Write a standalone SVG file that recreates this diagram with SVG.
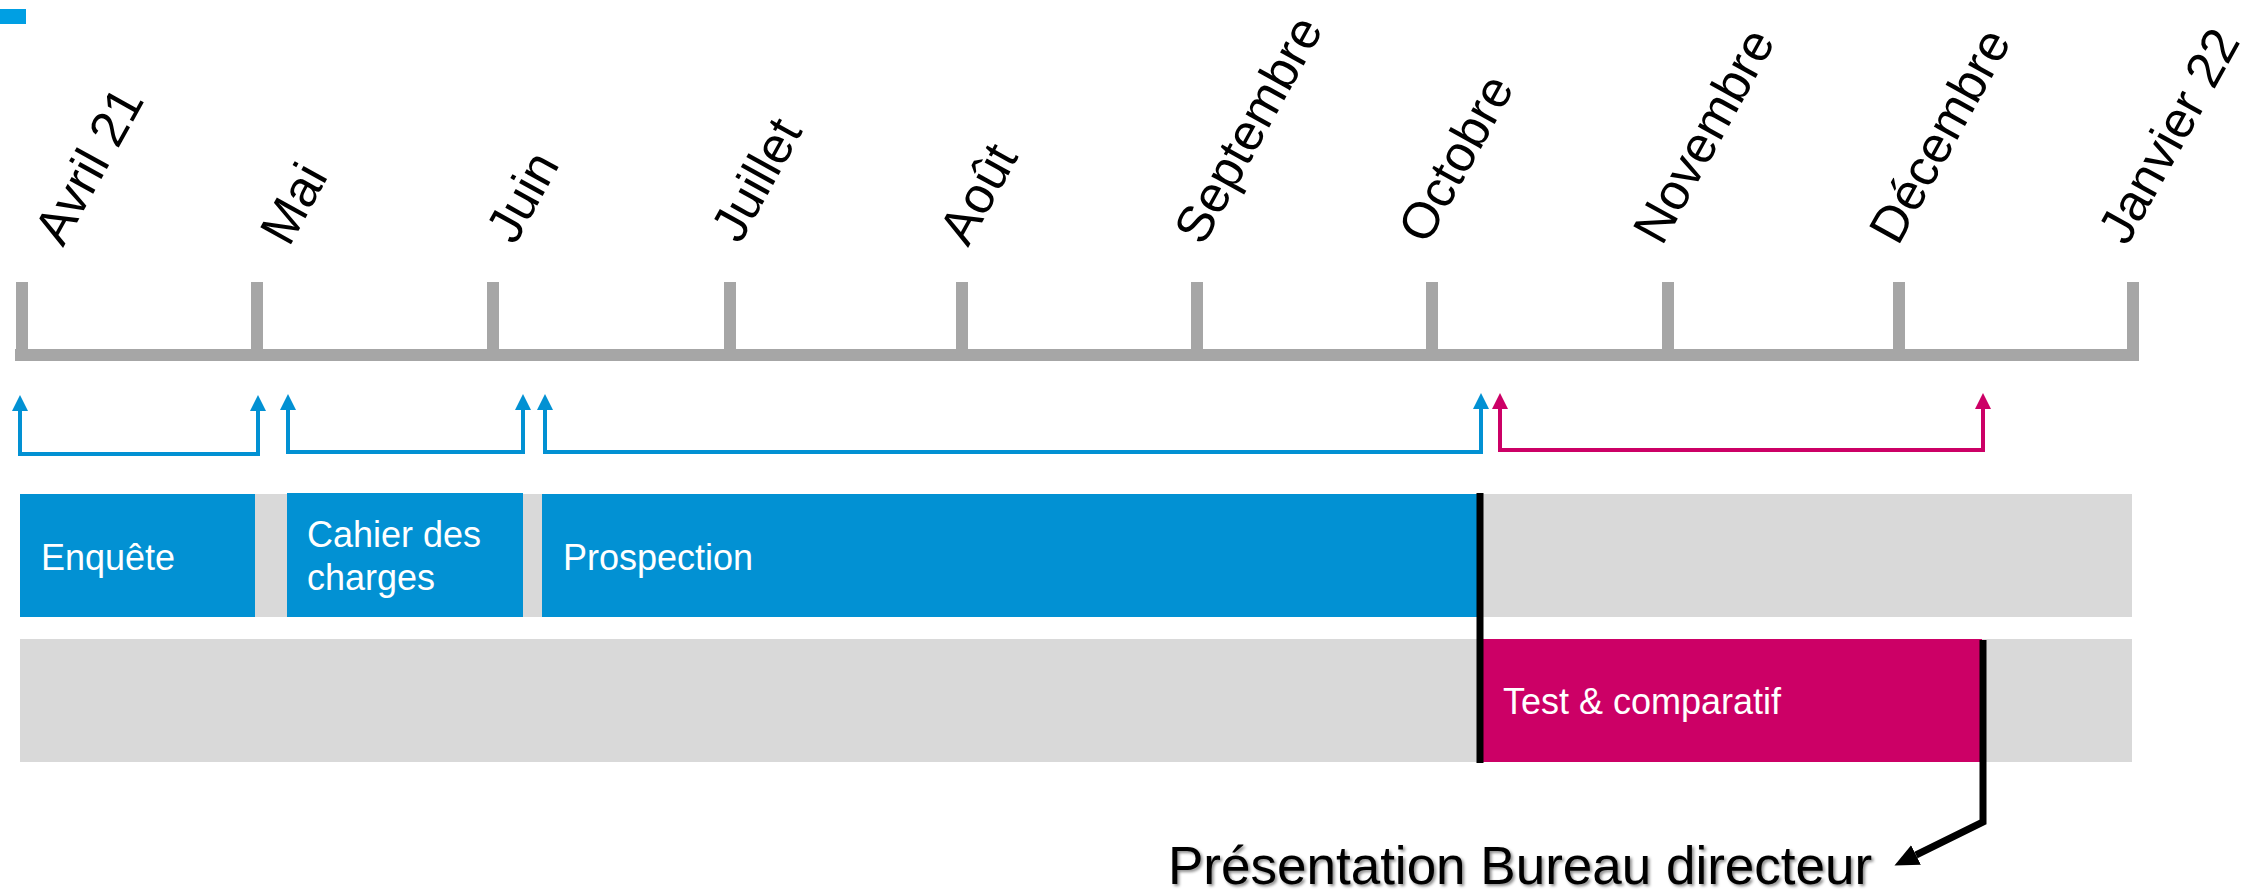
<svg xmlns="http://www.w3.org/2000/svg" width="2247" height="892" viewBox="0 0 2247 892">
<style>
.month{font-family:"Liberation Sans",Arial,sans-serif;font-size:51px;fill:#000}
.lbl{font-family:"Liberation Sans",Arial,sans-serif;font-size:36px;fill:#fff}
.tick{stroke:#A6A6A6;stroke-width:12;fill:none}
.blue{fill:#0291D3}
.pink{fill:#CC0066}
.bg{fill:#D9D9D9}
.brb{stroke:#0291D3;stroke-width:4;fill:none}
.brp{stroke:#CC0066;stroke-width:4;fill:none}
.blk{stroke:#000;stroke-width:7;fill:none}
</style>
<defs>
<marker id="ab" markerUnits="userSpaceOnUse" viewBox="0 0 16 16" refX="0" refY="8" markerWidth="16" markerHeight="16" orient="auto-start-reverse"><path d="M0,0 L16,8 L0,16 z" fill="#0291D3"/></marker>
<marker id="ap" markerUnits="userSpaceOnUse" viewBox="0 0 16 16" refX="0" refY="8" markerWidth="16" markerHeight="16" orient="auto-start-reverse"><path d="M0,0 L16,8 L0,16 z" fill="#CC0066"/></marker>
<marker id="ak" markerUnits="userSpaceOnUse" viewBox="0 0 24 22" refX="0" refY="11" markerWidth="24" markerHeight="22" orient="auto"><path d="M0,0 L24,11 L0,22 z" fill="#000"/></marker>
<filter id="sh" x="-5%" y="-20%" width="110%" height="150%"><feDropShadow dx="2" dy="2" stdDeviation="1.5" flood-color="#000" flood-opacity="0.45"/></filter>
</defs>
<rect x="0" y="9" width="26" height="15" fill="#009FE3"/>
<g id="axis">
<path class="tick" d="M15,355 H2139"/>
<path class="tick" d="M22,282 V361 M257,282 V361 M493,282 V361 M730,282 V361 M962,282 V361 M1197,282 V361 M1432,282 V361 M1668,282 V361 M1899,282 V361 M2133,282 V361"/>
</g>
<g id="months">
<text class="month" transform="translate(63,248) rotate(-61)">Avril 21</text>
<text class="month" transform="translate(289,248) rotate(-61)">Mai</text>
<text class="month" transform="translate(515,246) rotate(-61)">Juin</text>
<text class="month" transform="translate(740,245) rotate(-61)">Juillet</text>
<text class="month" transform="translate(968,248) rotate(-61)">Août</text>
<text class="month" transform="translate(1203,247) rotate(-61)">Septembre</text>
<text class="month" transform="translate(1427,246) rotate(-61)">Octobre</text>
<text class="month" transform="translate(1662,247) rotate(-61)">Novembre</text>
<text class="month" transform="translate(1898,247) rotate(-61)">Décembre</text>
<text class="month" transform="translate(2127,247) rotate(-61)">Janvier 22</text>
</g>
<g id="row1-bg"><rect class="bg" x="20" y="494" width="2112" height="123"/></g>
<g id="row2-bg"><rect class="bg" x="20" y="639" width="2112" height="123"/></g>
<g id="enquete"><rect class="blue" x="20" y="494" width="235" height="123"/><text class="lbl" x="41" y="570">Enquête</text></g>
<g id="cahier"><rect class="blue" x="287" y="493" width="236" height="124"/><text class="lbl" x="307" y="547">Cahier des</text><text class="lbl" x="307" y="590">charges</text></g>
<g id="prospection"><rect class="blue" x="542" y="494" width="936" height="123"/><text class="lbl" x="563" y="570">Prospection</text></g>
<g id="test"><rect class="pink" x="1482" y="639" width="500" height="123"/><text class="lbl" x="1503" y="714">Test &amp; comparatif</text></g>
<g id="presentation"><text x="1168" y="884" font-family="'Liberation Sans',Arial,sans-serif" font-size="53" fill="#000" filter="url(#sh)">Présentation Bureau directeur</text></g>
<g id="connectors">
<path class="brb" d="M20,411 V454 H258 V411" marker-start="url(#ab)" marker-end="url(#ab)"/>
<path class="brb" d="M288,410 V452 H523 V410" marker-start="url(#ab)" marker-end="url(#ab)"/>
<path class="brb" d="M545,410 V452 H1481 V409" marker-start="url(#ab)" marker-end="url(#ab)"/>
<path class="brp" d="M1500,409 V450 H1983 V409" marker-start="url(#ap)" marker-end="url(#ap)"/>
<path class="blk" d="M1480,493 V763"/>
<path class="blk" d="M1983,640 V822 L1916,855" marker-end="url(#ak)"/>
</g>
</svg>
